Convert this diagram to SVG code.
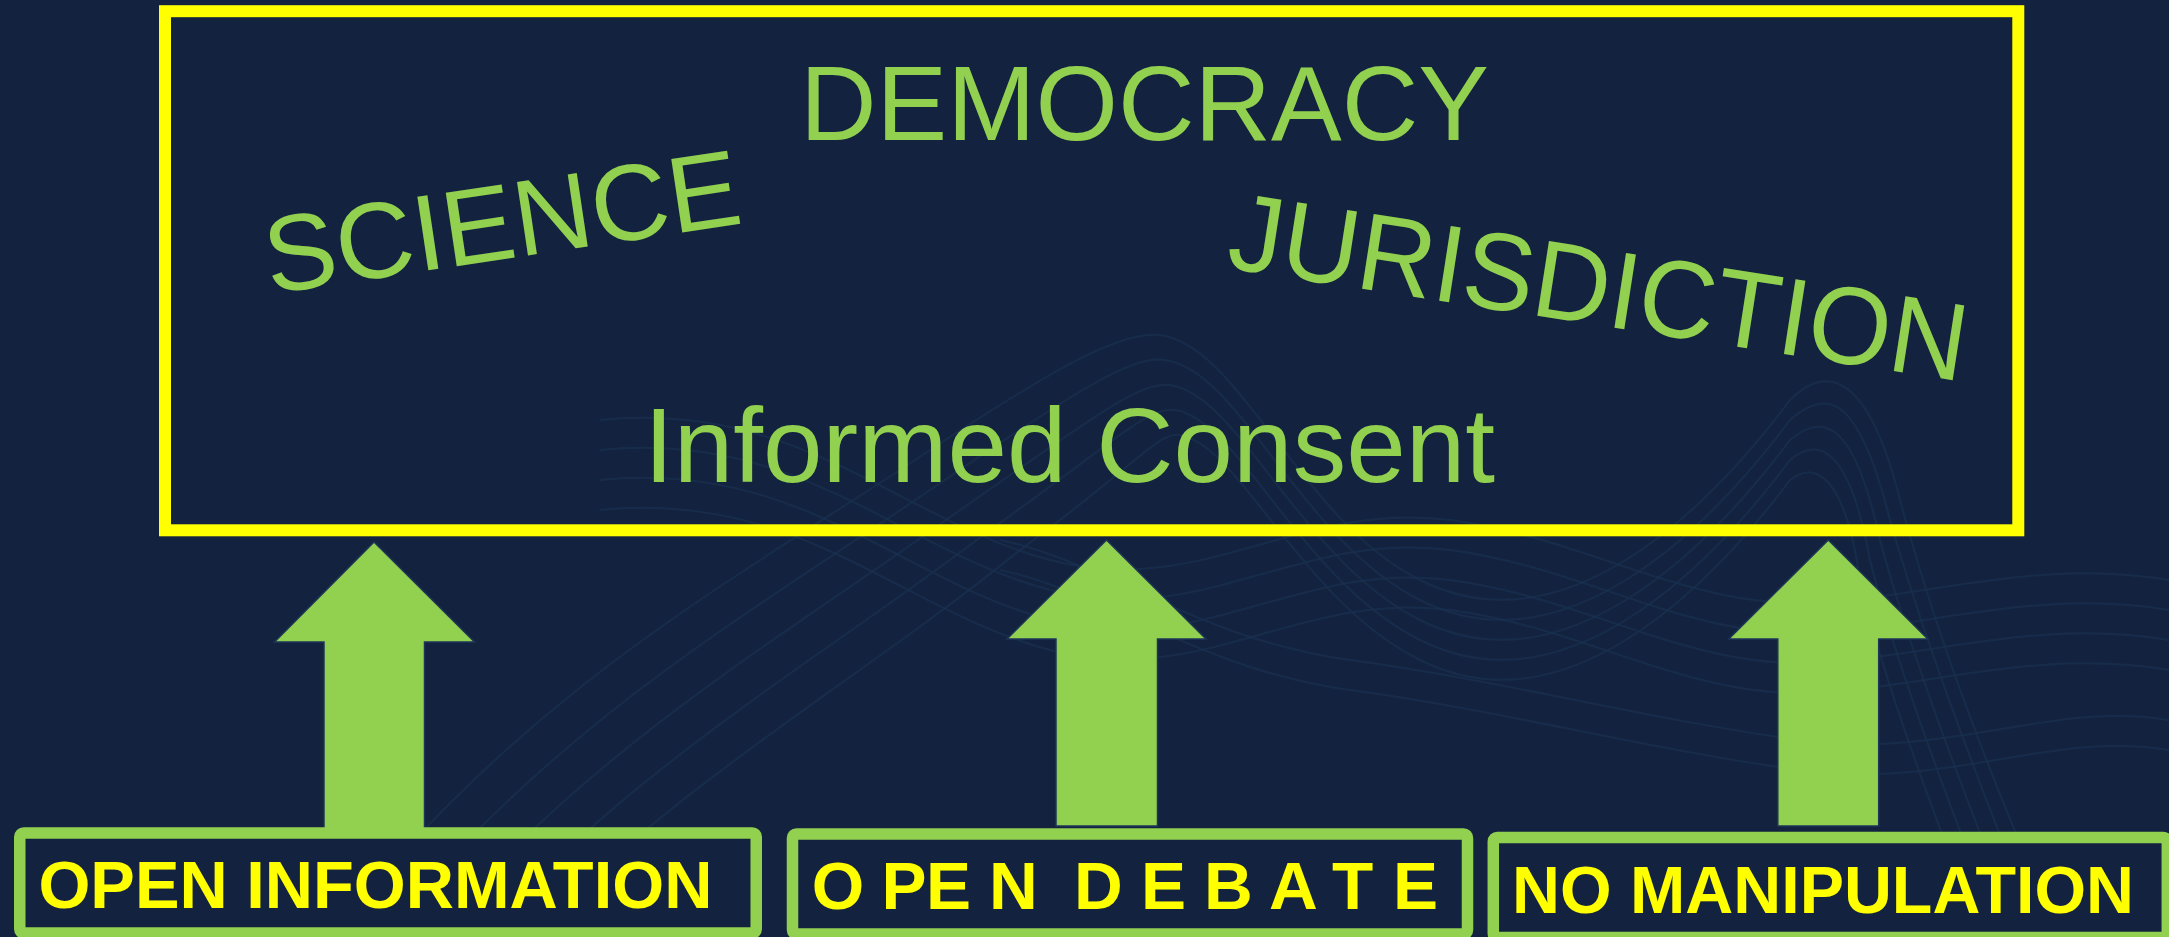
<svg xmlns="http://www.w3.org/2000/svg" width="2169" height="937" viewBox="0 0 2169 937">
<style>
.bg{fill:#13233f}
.wave{fill:none;stroke:#1a3050;stroke-width:2;opacity:0.75}
.big{font-family:"Liberation Sans",Arial,sans-serif;fill:#92d050}
.lbl{font-family:"Liberation Sans",Arial,sans-serif;font-weight:bold;fill:#ffff00;font-size:67.5px}
.ybox{fill:none;stroke:#ffff00;stroke-width:12}
.gbox{fill:#13233f;stroke:#92d050;stroke-width:11.5}
.arrow{fill:#92d050;stroke:#1e3558;stroke-width:1.5}
</style>
<rect class="bg" x="0" y="0" width="2169" height="937"/>
<g id="background-waves">
<path class="wave" d="M330 937 C520 700 700 600 900 470 C1050 370 1120 330 1160 335 C1240 345 1300 520 1420 580 C1560 650 1700 520 1790 400 C1830 360 1870 380 1900 500 C1940 650 2000 800 2060 937"/>
<path class="wave" d="M380 937 C560 720 740 620 930 490 C1070 395 1130 355 1165 360 C1240 370 1300 540 1420 600 C1560 670 1700 540 1790 420 C1830 385 1860 400 1890 520 C1930 660 1990 810 2040 937"/>
<path class="wave" d="M430 937 C600 740 780 640 960 510 C1090 420 1140 380 1170 385 C1240 395 1300 560 1420 620 C1560 690 1700 560 1790 440 C1825 410 1855 425 1880 540 C1915 670 1975 820 2020 937"/>
<path class="wave" d="M480 937 C640 760 820 660 990 530 C1110 445 1150 405 1175 410 C1240 420 1300 580 1420 640 C1560 710 1700 580 1790 460 C1820 435 1850 450 1870 560 C1900 680 1960 830 2000 937"/>
<path class="wave" d="M530 937 C680 780 860 680 1020 550 C1130 470 1160 430 1180 435 C1240 445 1300 600 1420 660 C1560 730 1700 600 1790 480 C1815 460 1845 475 1860 580 C1885 690 1945 840 1980 937"/>
<path class="wave" d="M600 420 C800 400 900 520 1050 560 C1200 600 1300 500 1450 520 C1600 540 1700 620 1850 600 C1950 590 2050 560 2169 580"/>
<path class="wave" d="M600 450 C800 430 900 550 1050 590 C1200 630 1300 530 1450 550 C1600 570 1700 650 1850 630 C1950 620 2050 590 2169 610"/>
<path class="wave" d="M600 480 C800 460 900 580 1050 620 C1200 660 1300 560 1450 580 C1600 600 1700 680 1850 660 C1950 650 2050 620 2169 640"/>
<path class="wave" d="M600 510 C800 490 900 610 1050 650 C1200 690 1300 590 1450 610 C1600 630 1700 710 1850 690 C1950 680 2050 650 2169 670"/>
<path class="wave" d="M1000 540 C1100 560 1200 640 1350 660 C1500 680 1650 720 1800 740 C1950 760 2050 700 2169 720"/>
<path class="wave" d="M1000 570 C1100 590 1200 670 1350 690 C1500 710 1650 750 1800 770 C1950 790 2050 730 2169 750"/>
</g>
<g id="top-box">
<rect class="ybox" x="165" y="11.2" width="1853.3" height="519.1"/>
<text class="big" x="800" y="140" font-size="106">DEMOCRACY</text>
<text class="big" transform="translate(270,294) rotate(-8.5)" x="0" y="0" font-size="108">SCIENCE</text>
<text class="big" transform="translate(1225,267.5) rotate(8.8)" x="0" y="0" font-size="110" textLength="745" lengthAdjust="spacingAndGlyphs">JURISDICTION</text>
<text class="big" x="644" y="481.7" font-size="106" textLength="851" lengthAdjust="spacingAndGlyphs">Informed Consent</text>
</g>
<g id="connectors">
<polygon class="arrow" points="374,542 474.5,642 424.5,642 424.5,829 324,829 324,642 274.5,642"/>
<polygon class="arrow" points="1106.5,540 1206,639 1157.5,639 1157.5,826 1056,826 1056,639 1007,639"/>
<polygon class="arrow" points="1828.3,540 1927.8,639 1878.7,639 1878.7,826 1777.8,826 1777.8,639 1728.8,639"/>
</g>
<g id="open-information">
<rect class="gbox" x="19.75" y="833" width="736.5" height="100" rx="4"/>
<text class="lbl" x="38.4" y="907.7" font-size="66.6" textLength="674" lengthAdjust="spacingAndGlyphs">OPEN INFORMATION</text>
</g>
<g id="open-debate">
<rect class="gbox" x="792.5" y="834" width="675" height="100" rx="4"/>
<text class="lbl" style="white-space:pre" xml:space="preserve" y="909" x="811.7 860 881.4 925.9 970 989.1 1040 1055 1074.1 1125 1141.1 1190 1204.1 1255 1269 1320 1332 1380 1393.1">O PE N  D E B A T E</text>
</g>
<g id="no-manipulation">
<rect class="gbox" x="1493.3" y="837.5" width="674" height="100" rx="4"/>
<text class="lbl" x="1512" y="912.7" font-size="67.6" textLength="622" lengthAdjust="spacingAndGlyphs">NO MANIPULATION</text>
</g>
</svg>
